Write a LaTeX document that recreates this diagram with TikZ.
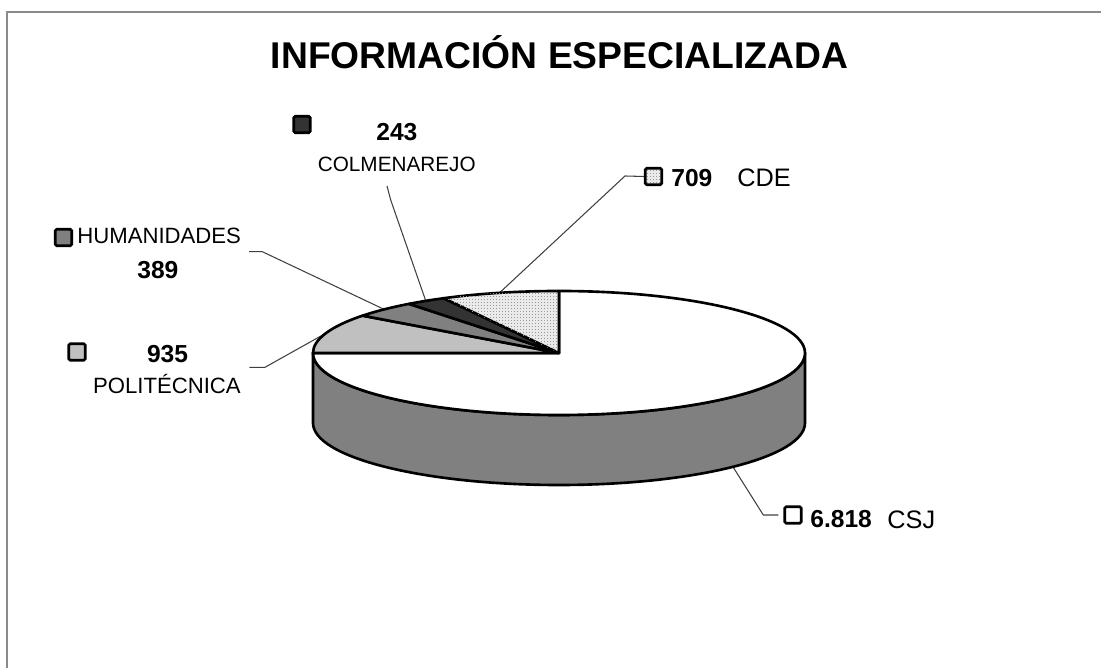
\documentclass[tikz,border=0pt]{standalone}
\usepackage{fontspec}
\setmainfont{Liberation Sans}
\usetikzlibrary{patterns}
\definecolor{politec}{HTML}{C0C0C0}
\definecolor{human}{HTML}{808080}
\definecolor{colmen}{HTML}{333333}
\definecolor{cdefill}{HTML}{EAEAEA}
\definecolor{framegray}{HTML}{8A8A8A}
\pgfdeclarepatternformonly{finedots}{\pgfpointorigin}{\pgfqpoint{1.4pt}{1.4pt}}%
  {\pgfqpoint{1.4pt}{1.4pt}}{\pgfpathrectangle{\pgfpointorigin}{\pgfqpoint{0.55pt}{0.55pt}}\pgfusepath{fill}}
\begin{document}
\begin{tikzpicture}[x=0.02cm,y=0.02cm,
    slice/.style={draw=black,line width=1.5pt,line join=round},
    dotted fill/.style={fill=cdefill,postaction={pattern=finedots,pattern color=black!40}},
    legbox/.style={draw=black,line width=1.5pt,rounded corners=0.8pt,minimum size=0.33cm,inner sep=0pt},
    leader/.style={draw=black!75,line width=0.6pt},
    num/.style={font=\bfseries\fontsize{14}{16}\selectfont,inner sep=0pt,anchor=base west},
    bigunit/.style={font=\fontsize{14.4}{17}\selectfont,inner sep=0pt,anchor=base west},
    unit/.style={font=\fontsize{12.6}{15}\selectfont,inner sep=0pt,anchor=base west}]
  \useasboundingbox (0,0) rectangle (1101,668);
  \draw[framegray,line width=0.9pt] (7,0) -- (7,656) -- (1101,656);
  \node[font=\bfseries\fontsize{21.2}{25}\selectfont,inner sep=0pt,anchor=base]
    (title) at (559.5,599) {INFORMACIÓN ESPECIALIZADA};
  % legend
  \node[legbox,fill=colmen] (colbox) at (302,543.5) {};
  \node[legbox,fill=human] (humbox) at (63.5,430.5) {};
  \node[legbox,fill=politec] (polbox) at (77,316) {};
  \node[legbox,dotted fill] (cdebox) at (653.5,491.5) {};
  \node[legbox,fill=white] (csjbox) at (793,153) {};
  \node[num] (colnum) at (376,527.3) {243};
  \node[unit,font=\fontsize{11.8}{14}\selectfont] (colunit) at (317.5,496.3) {COLMENAREJO};
  \node[num] (cdenum) at (671,481) {709};
  \node[bigunit] (cdeunit) at (737,481) {CDE};
  \node[unit] (humunit) at (77,424) {HUMANIDADES};
  \node[num] (humnum) at (137,389.7) {389};
  \node[num] (polnum) at (146.7,305.3) {935};
  \node[unit] (polunit) at (92.7,274.7) {POLITÉCNICA};
  \node[num] (csjnum) at (810,140) {6.818};
  \node[bigunit] (csjunit) at (887,139) {CSJ};
  % leaders
  \coordinate (ctr) at (559,315);
  \coordinate (csjpt) at ({559+246*cos(-45)},{245+62*sin(-45)});
  \coordinate (cdept) at ({559+246*cos(104)},{315+62*sin(104)});
  \coordinate (colpt) at ({559+246*cos(122.8)},{315+62*sin(122.8)});
  \coordinate (humpt) at ({559+246*cos(135.3)},{315+62*sin(135.3)});
  \coordinate (polpt) at ({559+246*cos(161.5)},{315+62*sin(161.5)});
  \coordinate (csjbend) at (763.3,153);
  \coordinate (csjend) at (778.3,153);
  \coordinate (cdebend) at (625,492);
  \coordinate (colbend) at (390.7,468);
  \coordinate (colend) at (387,482);
  \coordinate (humbend) at (262.3,416.3);
  \coordinate (humend) at (249,416.3);
  \coordinate (polbend) at (265,300.7);
  \coordinate (polend) at (249.3,300.7);
  \draw[leader] (csjpt) -- (csjbend) -- (csjend);
  \draw[leader] (cdept) -- (cdebend) -- (cdebox.west);
  \draw[leader] (colpt) -- (colbend) -- (colend);
  \draw[leader] (humpt) -- (humbend) -- (humend);
  \draw[leader] (polpt) -- (polbend) -- (polend);
  % pie
  \draw[slice,fill=human] (313,315) -- (313,245)
    arc[start angle=180,end angle=360,x radius=246,y radius=62] -- (805,315)
    arc[start angle=0,end angle=-180,x radius=246,y radius=62] -- cycle;
  \draw[slice,fill=white] (ctr) -- (559,377)
    arc[start angle=90,end angle=-180,x radius=246,y radius=62] -- cycle;
  \foreach \a/\b/\c in {180/142.99/politec,142.99/127.59/human,127.59/117.97/colmen}
    \draw[slice,fill=\c] (ctr) -- ({559+246*cos(\a)},{315+62*sin(\a)})
      arc[start angle=\a,end angle=\b,x radius=246,y radius=62] -- cycle;
  \draw[slice,dotted fill] (ctr) -- ({559+246*cos(117.97)},{315+62*sin(117.97)})
    arc[start angle=117.97,end angle=90,x radius=246,y radius=62] -- cycle;
\end{tikzpicture}
\end{document}
